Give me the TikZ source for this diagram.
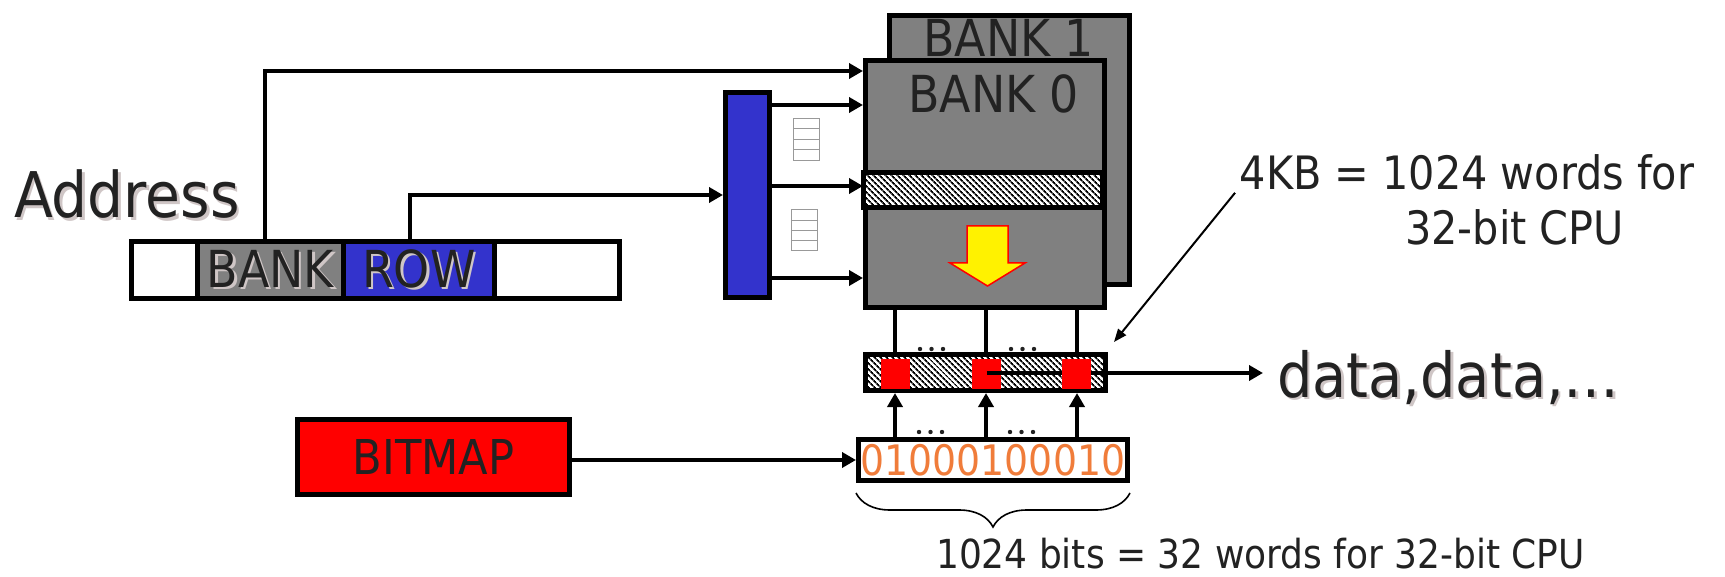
\documentclass[tikz,border=0pt]{standalone}
\usepackage{fontspec}
\setmainfont{DejaVu Sans Condensed}
\usetikzlibrary{arrows.meta,patterns.meta,decorations.pathreplacing,calc}
\definecolor{bankgray}{HTML}{808080}
\definecolor{decblue}{HTML}{3333CC}
\definecolor{bitorange}{HTML}{F07C3A}
\definecolor{txt}{HTML}{222222}
\definecolor{shadowc}{HTML}{CFC6C6}
\newcommand{\fsz}[1]{\fontsize{#1}{#1}\selectfont}
\newcommand{\shad}[1]{\makebox[0pt][l]{\raisebox{-2.5pt}{\hspace{2.5pt}\textcolor{shadowc}{#1}}}#1}
\begin{document}
\begin{tikzpicture}[x=1pt,y=-1pt,
  box/.style={draw=black,line width=5pt,inner sep=0pt,anchor=north west,text=txt},
  hatch/.style={preaction={fill=white},pattern={Lines[angle=-45,distance=4pt,line width=1.8pt]}},
  redsq/.style={fill=red,draw=none,inner sep=0pt,outer sep=0pt,anchor=north west,minimum width=29pt,minimum height=30pt},
  lbl/.style={inner sep=0pt,anchor=base west,text=txt},
  arr/.style={line width=4.5pt,-{Triangle[length=14pt,width=15pt]}},
  ln/.style={line width=4.5pt},
  thinarr/.style={line width=2pt,-{Triangle[length=13pt,width=10pt]}},
  icon/.style={draw=gray!80,line width=1pt},
  dotrow/.style={fill=txt}]
\useasboundingbox (0,0) rectangle (1725,577);

% banks
\node[box,fill=bankgray,minimum width=240pt,minimum height=269pt] (bank1) at (887,13) {};
\node[lbl] (bank1t) at (923,57) {\fsz{51}BANK 1};
\node[box,fill=bankgray,minimum width=239pt,minimum height=247pt] (bank0) at (863,58) {};
\node[lbl] (bank0t) at (908,113) {\fsz{51}BANK 0};
\node[box,hatch,minimum width=239pt,minimum height=35pt] (band) at (863,172) {};
\draw[draw=red,fill=yellow,line width=1.5pt] (967,226) -- (1008,226) -- (1008,263) -- (1025,263) -- (987.5,286) -- (950,263) -- (967,263) -- cycle;

% address
\node[lbl] (addr) at (14,218) {\fsz{63}\shad{Address}};
\node[box,fill=white,minimum width=65.5pt,minimum height=57pt] (c1) at (129,239) {};
\node[box,fill=bankgray,minimum width=146.5pt,minimum height=57pt] (bankcell) at (194.5,239) {\fsz{51}\shad{BANK}};
\node[box,fill=decblue,minimum width=150.5pt,minimum height=57pt] (rowcell) at (341,239) {\fsz{51}\shad{ROW}};
\node[box,fill=white,minimum width=125.5pt,minimum height=57pt] (c4) at (491.5,239) {};

% decoder
\node[box,fill=decblue,minimum width=44pt,minimum height=205pt] (decoder) at (723,90) {};
\draw[icon] (793,119) rectangle (819,161);
\foreach \yy in {129,140,150} \draw[icon] (793,\yy) -- (819,\yy);
\draw[icon] (791,210) rectangle (817,251);
\foreach \yy in {221,231,241} \draw[icon] (791,\yy) -- (817,\yy);

\draw[arr] ([xshift=-5.25pt]bankcell.north) |- ([yshift=-13pt]bank0.north west);
\draw[arr] ([xshift=-8.75pt]rowcell.north) |- (decoder.west);
\foreach \s in {90,9,-83}
  \draw[arr] ([yshift=\s pt]decoder.east) -- ([yshift=\s pt]decoder.east -| bank0.west);

% row buffer
\node[box,hatch,minimum width=240pt,minimum height=36pt] (rowbuf) at (863,352) {};
\node[redsq] (sq1) at (881,359) {};
\node[redsq] (sq2) at (972,359) {};
\foreach \s in {-90,1,92}
  \draw[ln] ([xshift=\s pt]bank0.south) -- ([xshift=\s pt]bank0.south |- rowbuf.north);
\node[lbl] (data) at (1277,397) {\fsz{62}\shad{data,data,…}};
\draw[arr] ([yshift=1pt]sq2.center) -- ([xshift=-14pt,yshift=1pt]sq2.center -| data.west);
\node[redsq] (sq3) at (1062,359) {};

% bitmap
\node[box,fill=white,minimum width=269pt,minimum height=41pt,text=bitorange] (bitbox) at (856,437) {\fsz{42}01000100010};
\foreach \s in {-90,1,92}
  \draw[arr] ([xshift=\s pt]bank0.south |- bitbox.north) -- ([xshift=\s pt]bank0.south |- rowbuf.south);
\node[box,fill=red,minimum width=272pt,minimum height=75pt] (bitmap) at (295,417) {\fsz{48}BITMAP\hspace{10pt}};
\draw[arr] (bitmap.east |- bitbox.west) -- (bitbox.west);

\foreach \cx/\cy in {920/349,1011/349,919/432,1010/432}
  \foreach \k in {0,11.5,23} \fill[dotrow] (\cx+\k,\cy) circle (2.2);

% annotations
\node[lbl] (kb) at (1239.5,190) {\fsz{46}4KB = 1024 words for};
\node[lbl] (cpu) at (1405,245) {\fsz{46}32-bit CPU};
\draw[thinarr] ([shift={(-4.5pt,-2pt)}]kb.south west) -- ([shift={(6pt,10pt)}]rowbuf.north east);

\draw[decorate,decoration={brace,mirror,amplitude=34pt},line width=1.6pt]
  ([yshift=-10pt]bitbox.south west) -- ([yshift=-10pt]bitbox.south east);
\node[lbl] (bits) at (936,568) {\fsz{40}1024 bits = 32 words for 32-bit CPU};
\end{tikzpicture}
\end{document}
